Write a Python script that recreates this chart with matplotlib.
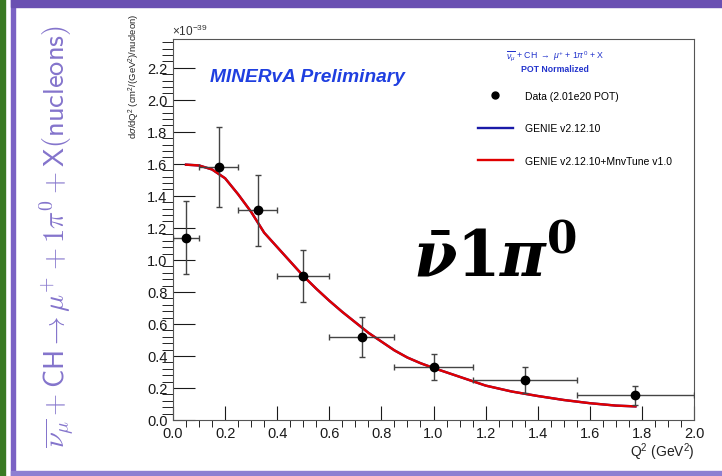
import numpy as np
import matplotlib.pyplot as plt
from matplotlib.patches import Rectangle

W, H = 722, 477

# data points: bin centres, bin edges, cross section (1e-39 cm^2/GeV^2/nucleon)
q2 = [0.05, 0.175, 0.325, 0.5, 0.725, 1.0, 1.35, 1.775]
q2_lo = [0.0, 0.1, 0.25, 0.4, 0.6, 0.85, 1.15, 1.55]
q2_hi = [0.1, 0.25, 0.4, 0.6, 0.85, 1.15, 1.55, 2.0]
xsec = [1.14, 1.58, 1.31, 0.90, 0.52, 0.33, 0.25, 0.155]
err = [0.23, 0.25, 0.22, 0.16, 0.125, 0.08, 0.08, 0.06]

# GENIE curves
mc_q2 = [0.05, 0.1, 0.15, 0.2, 0.25, 0.3, 0.35, 0.4, 0.45, 0.5, 0.55, 0.6, 0.65,
         0.7, 0.75, 0.8, 0.85, 0.9, 0.95, 1.0, 1.1, 1.2, 1.3, 1.4, 1.5, 1.6,
         1.7, 1.775]
genie = [1.595, 1.59, 1.565, 1.51, 1.41, 1.30, 1.17, 1.08, 0.99, 0.90, 0.82,
         0.745, 0.675, 0.61, 0.545, 0.49, 0.435, 0.39, 0.355, 0.325, 0.27,
         0.215, 0.178, 0.15, 0.125, 0.105, 0.09, 0.085]
genie_tune = genie

xticks = [0.0, 0.2, 0.4, 0.6, 0.8, 1.0, 1.2, 1.4, 1.6, 1.8, 2.0]
yticks = [0.0, 0.2, 0.4, 0.6, 0.8, 1.0, 1.2, 1.4, 1.6, 1.8, 2.0, 2.2]


def fx(x):
    return x / W


def fy(y):
    return 1 - y / H


plt.rcParams['font.family'] = ['Liberation Sans', 'DejaVu Sans']
plt.rcParams['mathtext.fontset'] = 'custom'
plt.rcParams['mathtext.rm'] = 'Liberation Sans'
plt.rcParams['mathtext.it'] = 'Liberation Sans:italic'

fig = plt.figure(figsize=(W / 100, H / 100), dpi=100)

# slide decoration
fig.patches.append(Rectangle((0, 0), fx(5), 1, transform=fig.transFigure,
                             color='#3a7a22', zorder=0))
fig.patches.append(Rectangle((fx(11), 0), fx(4), 1, transform=fig.transFigure,
                             color='#7a62c4', zorder=0))
fig.patches.append(Rectangle((fx(11), fy(8)), 1, 8 / H, transform=fig.transFigure,
                             color='#6a50b2', zorder=0))
fig.patches.append(Rectangle((fx(11), 0), 1, 5 / H, transform=fig.transFigure,
                             color='#8d7fd2', zorder=0))

ax = fig.add_axes([fx(173), fy(421), fx(694 - 173), (421 - 40) / H])

lo = np.array(q2) - np.array(q2_lo)
hi = np.array(q2_hi) - np.array(q2)
ax.plot(mc_q2, genie, color='#1a1aa8', lw=1.7, zorder=2)
ax.plot(mc_q2, genie_tune, color='#e00000', lw=1.7, zorder=3)
ax.errorbar(q2, xsec, xerr=[lo, hi], yerr=err, fmt='o', color='black',
            ecolor='#444444', elinewidth=1, capsize=2.5, markersize=6, zorder=4)

ax.set_xlim(0, 2.0)
ax.set_ylim(0, 2.38)
ax.set_xticks(xticks)
ax.set_xticklabels(['%.1f' % v for v in xticks])
ax.set_yticks(yticks)
ax.set_yticklabels(['%.1f' % v for v in yticks])
ax.set_xticks(np.arange(0, 2.001, 0.05), minor=True)
ax.set_yticks(np.arange(0, 2.38, 0.04), minor=True)
ax.tick_params(axis='both', direction='in', labelsize=10.5, colors='#1a1a1a')
ax.tick_params(axis='y', which='major', length=16, pad=4)
ax.tick_params(axis='y', which='minor', length=8)
ax.tick_params(axis='x', which='major', length=10, pad=4)
ax.tick_params(axis='x', which='minor', length=5)
for s in ax.spines.values():
    s.set_color('#555555')

# labels
fig.text(fx(695), fy(452), r'Q$^{2}$ (GeV$^{2}$)', ha='right', va='center',
         fontsize=10, color='#222222')
fig.text(fx(134), fy(14), r'd$\sigma$/dQ$^{2}$ (cm$^{2}$/(GeV$^{2}$)/nucleon)',
         rotation=90, ha='center', va='top', fontsize=6.8, color='#222222')
fig.text(fx(172), fy(31), r'$\times$10$^{-39}$', ha='left', va='center',
         fontsize=8.5, color='#333333')
fig.text(fx(210), fy(78), 'MINERvA Preliminary', ha='left', va='center',
         fontsize=13.8, fontweight='bold', fontstyle='italic', color='#1f3fe0')

# legend
fig.text(fx(555), fy(57), r'$\overline{\nu_\mu}$ + CH $\rightarrow$ $\mu^{+}$ + 1$\pi^{0}$ + X',
         ha='center', va='center', fontsize=6.3, color='#2233cc')
fig.text(fx(555), fy(70), 'POT Normalized', ha='center', va='center',
         fontsize=6.3, fontweight='bold', color='#2233cc')
leg = ax.legend(handles=[ax.lines[2], ax.lines[0], ax.lines[1]],
                labels=['Data (2.01e20 POT)', 'GENIE v2.12.10',
                        'GENIE v2.12.10+MnvTune v1.0'],
                loc='upper left', bbox_to_anchor=(0.568, 0.888), frameon=False,
                fontsize=7.5, handlelength=3.3, handletextpad=1.2, labelspacing=2.15)
leg.legend_handles[0].set_markersize(5)

# big label
fig.text(fx(413), fy(277), r'$\bar{\boldsymbol{\nu}}\mathbf{1}\boldsymbol{\pi}^{\mathbf{0}}$',
         ha='left', va='baseline', fontsize=45, color='black',
         math_fontfamily='dejavuserif')

# slide side title
fig.text(fx(57), fy(236),
         r'$\overline{\nu_\mu} + \mathsf{CH} \rightarrow \mu^{+} + 1\pi^{0} + \mathsf{X(nucleons)}$',
         rotation=90, ha='center', va='center', fontsize=20.5, color='#8474cc',
         math_fontfamily='cm')

plt.savefig('out.png', dpi=100)
